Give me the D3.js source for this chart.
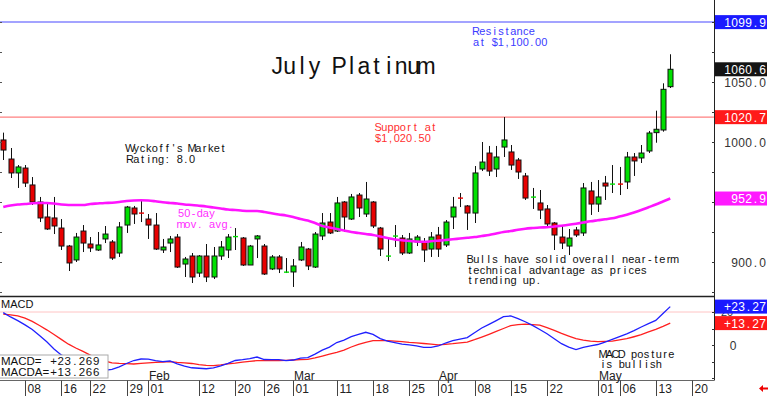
<!DOCTYPE html>
<html>
<head>
<meta charset="utf-8">
<script src="https://cdn.jsdelivr.net/npm/d3@7"></script>
<style>
  body { margin: 0; background: #fff; }
  svg { display: block; font-family: "Liberation Sans", Arial, sans-serif; }
  text { white-space: pre; }
</style>
</head>
<body>
<div id="chart-area"></div>
<script>
// July Platinum daily candles, Jan 3 - May 15 2024
const open  = [1001.7,985.8,974.2,978.3,964.2,950,937.5,936.7,928.3,913.3,901.7,925.8,915,910,919.2,916.7,907.5,930.8,945,941.25,935.8,930.8,910,915.8,920.8,898.3,905,890.8,905,887.5,905,910,920.8,920,897.5,919.2,913.3,894.2,904.2,891.25,891.7,901.7,910.8,895.8,921.7,933.3,925.8,950,935.8,955.8,940,950,928.3,904.6,921.3,920,907.5,916.7,916.7,910.8,922.5,914.2,937.5,953.75,946.7,940.8,977.5,990.8,977.5,995.8,991.7,985,971.7,953.75,949.2,944.2,932.5,920.8,913.3,926.7,924.2,959.2,948.3,965.8,964.6,965.4,966.7,987.5,986.7,992.5,1007.8,1010,1046.1]
const high  = [1007.8,995,980.8,980.8,970.8,954.2,949.2,954.2,935.8,914.2,924.2,930.8,920.8,925,930,918.3,933.3,946.7,946.7,951.7,940,940.8,919.2,921.7,923.3,904.2,907.5,905.8,915,912.5,917.5,923.3,928.3,920.8,914.2,922.5,915,905.8,905.8,903.3,902.5,916.7,911.7,925,940.8,940.8,954.2,950.8,956.7,957.5,966.7,950.8,929.2,920.8,930.8,922.5,924.2,922.5,920,925,929.2,935,954.2,957.5,947.5,980,1000,996.7,996.7,1020.8,997.5,986.7,974.2,961.7,960,947.5,933.3,930,927.5,929.2,965.8,966.7,968.3,971.7,980.8,979.2,991.7,990.8,997.5,1009.2,1026.1,1048.9,1073.1]
const low   = [985,970,961.7,962.5,947.5,933.3,926.7,923.3,910,892.5,900,908.3,908.3,909.2,915.8,901.7,904.2,924.2,931.7,933.3,919.2,910,907.5,908.3,895,887.5,882.5,887.5,883.3,885.8,901.7,903.3,910,896.7,897.5,903.3,889.2,893.3,890.8,890.8,879.2,900.8,893.3,895,918.3,923.3,925,925,935,937.5,937.5,928.3,905,900.8,912.5,905.8,906.7,913.3,900,904.2,904.2,912.5,927.5,945.8,926.7,932.5,975.8,971.7,970.8,987.5,976.7,969.2,951.7,944.2,935.8,929.2,910,910.8,905.8,920.8,921.7,939.2,941.7,951.7,957.5,955.8,960.8,971.7,982.5,990.8,999.4,1008.6,1045]
const close = [993.3,974.2,979.2,965.8,950,936.7,927.5,930,913.3,899.2,920.8,915.8,911.7,914.2,923.3,903.3,929.2,945.8,940,940.4,930.8,910.8,912.5,919.2,895.8,902.5,887.5,905,887.5,905,912.5,920.8,921.7,897.5,913.3,921.7,890,904.2,894.2,892,896.7,912.5,896.7,923.3,932.5,924.2,949.2,937.5,954.2,945,952.5,930,910.8,905.4,922.1,907.5,919.2,920.8,910,920.8,910.8,933.3,945.8,952.9,940.8,974.2,983.3,975.8,987.5,1001.7,980.8,975,953.3,954.6,943.3,931.7,922.5,915.8,920,922.5,961.7,948.3,954.2,963.3,965.4,964.6,987.5,984.2,990.8,1007.5,1010.6,1043.9,1060.6]

// 50-day moving average
const ma50 = [945.8,947.1,947.9,948.3,948.9,949.2,949.2,948.75,947.9,947.5,947.5,947.5,948.3,948.75,949.2,949.4,950,950.8,951.25,951.4,951.25,950.6,949.75,949.2,948.75,947.9,947.5,946.9,946.25,945.4,944.6,943.75,943.3,942.75,942.5,942.5,941.7,940.6,939.6,938.75,937.5,935.8,934.6,932.5,930,928.75,927.5,926.25,925,924.2,923.3,922.5,921.25,920,918.75,918.1,917.5,917.1,916.9,917.25,917.75,918.3,918.9,919.6,920.25,920.8,921.7,922.5,923.75,925,925.8,926.9,927.75,928.3,928.75,928.9,929.6,930.25,931,931.9,932.9,933.9,934.75,935.6,936.4,937.9,939.4,941.25,943.3,945.6,947.9,950.4,952.9]

// MACD and its average
const macd = [19.6,17,14.8,12.2,9.4,5.7,2,-2.4,-6,-8.5,-11,-12.6,-14,-15,-15.3,-14.8,-13.3,-11.2,-9.4,-8.5,-8.6,-9.5,-10.1,-9.7,-11.4,-12.8,-13.8,-14.1,-14.4,-13.9,-12.6,-11.1,-9.4,-8.9,-8.2,-7.3,-8.8,-8.9,-8.9,-9.5,-9.1,-8,-7.7,-5.5,-3.1,-1.3,1.5,3,5.1,6.5,7.7,6.4,3.9,2.3,1.5,0.5,0.1,-0.5,-1.4,-1.4,-0.6,1.2,2.7,3.6,4.5,7.4,10.3,12.5,14.8,17.2,17.6,16,14.1,11.9,9.4,6.8,3.8,0.8,-1.3,-2.8,-1.4,-0.5,0.3,1.8,3.4,5.1,6.7,8.7,10.9,12.9,14.9,19.1,23.269]
const macda = [18.7,18.2,17.7,16.3,14.3,11.8,9.2,6.4,3.4,0.5,-1.8,-3.9,-6.1,-8.3,-9.7,-10.8,-11.1,-11.3,-11.5,-11.1,-10.8,-10.5,-10.3,-10.1,-10.5,-10.8,-11.2,-11.9,-12.4,-12.5,-12,-11.4,-11,-10.4,-9.9,-9.5,-9.5,-9.5,-9.4,-9.3,-9.1,-8.9,-8.7,-7.8,-6.7,-5.5,-4.4,-3.1,-1.2,0.4,1.6,2.6,2.6,2.6,2.3,2,1.6,1.3,0.9,0.5,0.1,0.4,0.8,1.3,1.8,3.2,4.8,6.5,8.2,10,11.8,12.4,12.7,12.4,12,10.5,8.9,7,5.4,3.9,3,2.4,2,2.2,2.4,3.1,3.8,5,6.3,7.9,9.5,11.3,13.266]

// x axis ticks
const tickDates  = ["2024-01-08","2024-01-16","2024-01-22","2024-01-29","2024-02-01","2024-02-12","2024-02-20","2024-02-26","2024-03-01","2024-03-11","2024-03-18","2024-03-25","2024-04-01","2024-04-08","2024-04-15","2024-04-22","2024-05-01","2024-05-06","2024-05-13","2024-05-20"]
const tickLabels = ["08","16","22","29","01","12","20","26","01","11","18","25","01","08","15","22","01","06","13","20"]
const monthDates  = ["2024-02-01","2024-03-01","2024-04-01","2024-05-01"]
const monthLabels = ["Feb","Mar","Apr","May"]
const holidays = ["2024-01-15","2024-02-19","2024-03-29"]

const resistance = 1099.9
const support = 1020.7

// trading calendar
const fmt = d3.timeFormat("%Y-%m-%d")
const days = d3.timeDay.range(new Date(2024, 0, 3), new Date(2024, 4, 24))
  .filter(d => d.getDay() !== 0 && d.getDay() !== 6)
  .map(fmt)
  .filter(d => !holidays.includes(d))

const candles = close.map((c, i) => ({ date: days[i], o: open[i], h: high[i], l: low[i], c: c }))

const W = 768, H = 396
const AXIS_X = 714
const MAIN_BOTTOM = 296.5
const MACD_BOTTOM = 380.5

const svg = d3.select("#chart-area").append("svg")
  .attr("width", W)
  .attr("height", H)

const x = d3.scalePoint()
  .domain(days)
  .range([3.25, 3.25 + 7.25 * (days.length - 1)])
const y = d3.scaleLinear().domain([900, 1050]).range([262, 82])
const ym = d3.scaleLinear().domain([0, 20]).range([345, 312])

// chart font puts every glyph in a fixed cell
function cellText(parent, str, x0, y0, cell) {
  const xs = str.split("").map((c, k) => (x0 + cell / 2 + k * cell).toFixed(2)).join(" ")
  return parent.append("text")
    .attr("x", xs).attr("y", y0)
    .attr("text-anchor", "middle")
    .text(str)
}

svg.append("clipPath").attr("id", "mainClip")
  .append("rect").attr("x", 0).attr("y", 0).attr("width", AXIS_X).attr("height", MAIN_BOTTOM)
svg.append("clipPath").attr("id", "macdClip")
  .append("rect").attr("x", 0).attr("y", MAIN_BOTTOM).attr("width", AXIS_X).attr("height", MACD_BOTTOM - MAIN_BOTTOM)

// Reference lines
svg.append("line")
  .attr("x1", 0).attr("x2", AXIS_X)
  .attr("y1", y(resistance)).attr("y2", y(resistance))
  .attr("stroke", "#8585ff").attr("stroke-width", 1.5)
svg.append("line")
  .attr("x1", 0).attr("x2", AXIS_X)
  .attr("y1", y(support)).attr("y2", y(support))
  .attr("stroke", "#ff8080").attr("stroke-width", 1.2)
svg.append("line")
  .attr("x1", 0).attr("x2", AXIS_X)
  .attr("y1", ym(20)).attr("y2", ym(20))
  .attr("stroke", "#ffc4c4").attr("stroke-width", 1)

// Title
cellText(svg, "July Platinum", 271, 74, 12.4)
  .attr("font-size", "23px")
  .attr("fill", "#111")

// Annotations
function note(lines, x0, y0, color) {
  lines.forEach((s, i) => {
    cellText(svg, s, x0, y0 + i * 10.6, 6.2)
      .attr("font-size", "11px")
      .attr("fill", color)
  })
}
note(["Resistance", "at $1,100.00"], 473, 35, "#3b3bff")
note(["Support at", "$1,020.50"], 375, 131, "#ff3030")
note(["Wyckoff's Market", "Rating: 8.0"], 127, 152, "#111")
note(["50-day", "mov. avg."], 178, 217, "#ff30ff")
note(["Bulls have solid overall near-term", "technical advantage as prices", "trending up."], 467, 263, "#111")
note(["MACD posture", "is bullish"], 600, 357.5, "#111")

// Candles
const cg = svg.append("g").attr("clip-path", "url(#mainClip)")
const candle = cg.selectAll("g.candle")
  .data(candles)
  .enter().append("g")
  .attr("class", "candle")
  .attr("transform", d => `translate(${Math.round(x(d.date)) + 0.5},0)`)

candle.append("line")
  .attr("y1", d => y(d.h)).attr("y2", d => y(d.l))
  .attr("stroke", "#111").attr("stroke-width", 1)

candle.each(function(d) {
  const g = d3.select(this)
  const top = y(Math.max(d.o, d.c))
  const bot = y(Math.min(d.o, d.c))
  const col = d.c >= d.o ? "#00e000" : "#e80000"
  if (bot - top < 2) {
    g.append("rect")
      .attr("x", -2.5).attr("width", 5)
      .attr("y", (top + bot) / 2 - 0.6).attr("height", 1.4)
      .attr("fill", col)
  } else {
    g.append("rect")
      .attr("x", -2.5).attr("width", 5)
      .attr("y", top).attr("height", bot - top)
      .attr("fill", col)
      .attr("stroke", "#111").attr("stroke-width", 1)
  }
})

// Moving average
cg.append("path")
  .datum(ma50)
  .attr("fill", "none")
  .attr("stroke", "#ff14ff")
  .attr("stroke-width", 2.6)
  .attr("d", d3.line().x((d, i) => x(days[i])).y(d => y(d)).curve(d3.curveMonotoneX))

// MACD lines
const mg = svg.append("g").attr("clip-path", "url(#macdClip)")
const macdLine = d3.line().x((d, i) => x(days[i])).y(d => ym(d))
mg.append("path").datum(macda)
  .attr("fill", "none").attr("stroke", "#ff2020").attr("stroke-width", 1.3)
  .attr("d", macdLine)
mg.append("path").datum(macd)
  .attr("fill", "none").attr("stroke", "#2020ff").attr("stroke-width", 1.3)
  .attr("d", macdLine)

// Panel frame
svg.append("line")
  .attr("x1", AXIS_X + 0.5).attr("x2", AXIS_X + 0.5)
  .attr("y1", 0).attr("y2", MACD_BOTTOM)
  .attr("stroke", "#222")
svg.append("line")
  .attr("x1", 0).attr("x2", AXIS_X)
  .attr("y1", MAIN_BOTTOM).attr("y2", MAIN_BOTTOM)
  .attr("stroke", "#222").attr("stroke-width", 1.5)
svg.append("line")
  .attr("x1", 0).attr("x2", AXIS_X)
  .attr("y1", MACD_BOTTOM).attr("y2", MACD_BOTTOM)
  .attr("stroke", "#666")

// Right price axis
const yAxis = svg.append("g")
d3.range(875, 1125, 25).forEach(v => {
  const yy = Math.round(y(v)) + 0.5
  yAxis.append("line").attr("x1", AXIS_X - 2).attr("x2", AXIS_X + 1).attr("y1", yy).attr("y2", yy).attr("stroke", "#333")
  yAxis.append("line").attr("x1", 0).attr("x2", 2).attr("y1", yy).attr("y2", yy).attr("stroke", "#555")
})
// 950 and 1100 sit under the value boxes
;[900, 1000, 1050].forEach(v => {
  const s = d3.format(".1f")(v)
  cellText(yAxis, s, 766 - s.length * 7, y(v) + 4.5, 7)
    .attr("font-size", "12px")
    .attr("fill", "#333")
})

// MACD axis
d3.range(-20, 30, 10).forEach(v => {
  const yy = Math.round(ym(v)) + 0.5
  if (yy > MAIN_BOTTOM && yy <= MACD_BOTTOM)
    yAxis.append("line").attr("x1", AXIS_X - 2).attr("x2", AXIS_X + 1).attr("y1", yy).attr("y2", yy).attr("stroke", "#333")
})
// "20" peeks out between the two MACD value boxes
yAxis.append("text")
  .attr("x", 727).attr("y", ym(20) + 4)
  .attr("text-anchor", "middle")
  .attr("font-size", "11px")
  .attr("fill", "#333")
  .text("20")
yAxis.append("text")
  .attr("x", 733).attr("y", ym(0) + 4.5)
  .attr("text-anchor", "middle")
  .attr("font-size", "12px")
  .attr("fill", "#333")
  .text("0")

// Value boxes
function valueBox(yy, label, bg) {
  const g = svg.append("g").attr("transform", `translate(0,${yy})`)
  g.append("rect").attr("x", 715).attr("y", -7).attr("width", 52).attr("height", 14).attr("fill", bg)
  cellText(g, label, 766 - label.length * 7, 4.5, 7)
    .attr("font-size", "12px")
    .attr("fill", "#fff")
}
valueBox(y(resistance), d3.format(".1f")(resistance), "#1a1aff")
valueBox(y(close[close.length - 1]), d3.format(".1f")(close[close.length - 1]), "#141414")
valueBox(y(support), d3.format(".1f")(support), "#ff1a1a")
valueBox(y(ma50[ma50.length - 1]), d3.format(".1f")(ma50[ma50.length - 1]), "#ff1aff")
valueBox(ym(macd[macd.length - 1]), d3.format("+.2f")(macd[macd.length - 1]), "#1a1aff")
valueBox(ym(macda[macda.length - 1]), d3.format("+.2f")(macda[macda.length - 1]), "#ff1a1a")

// MACD label and legend
svg.append("text")
  .attr("x", 1).attr("y", 308)
  .attr("font-size", "11px")
  .attr("fill", "#111")
  .text("MACD")

const legend = svg.append("g").attr("transform", "translate(0,355)")
legend.append("rect")
  .attr("x", -1).attr("y", 0).attr("width", 109).attr("height", 23)
  .attr("fill", "#fff").attr("stroke", "#aaa")
;[["MACD=", macd[macd.length - 1]], ["MACDA=", macda[macda.length - 1]]].forEach((row, i) => {
  legend.append("text")
    .attr("x", 1).attr("y", 10 + i * 10.5)
    .attr("font-size", "11.5px")
    .attr("fill", "#111")
    .text(row[0])
  cellText(legend, d3.format("+.3f")(row[1]), 50, 10 + i * 10.5, 7.1)
    .attr("font-size", "11.5px")
    .attr("fill", "#111")
})

// X axis
const xAxis = svg.append("g")
tickDates.forEach((d, i) => {
  const xx = Math.round(x(d)) + 0.5
  xAxis.append("line")
    .attr("x1", xx).attr("x2", xx)
    .attr("y1", MACD_BOTTOM).attr("y2", 396)
    .attr("stroke", "#444")
  xAxis.append("text")
    .attr("x", xx + 2).attr("y", 393)
    .attr("font-size", "12px")
    .attr("fill", "#222")
    .text(tickLabels[i])
})
monthDates.forEach((d, i) => {
  const xx = Math.round(x(d)) + 1
  xAxis.append("rect")
    .attr("x", xx).attr("y", 370).attr("width", 22).attr("height", 10)
    .attr("fill", "#fff")
  xAxis.append("text")
    .attr("x", xx).attr("y", 379.5)
    .attr("font-size", "12px")
    .attr("fill", "#222")
    .text(monthLabels[i])
})

// small red arrow bottom right
svg.append("path")
  .attr("d", "M759,388.5 L763,385 L763,387.5 L768,387.5 L768,389.5 L763,389.5 L763,392 Z")
  .attr("fill", "#ee0000")
</script>
</body>
</html>
